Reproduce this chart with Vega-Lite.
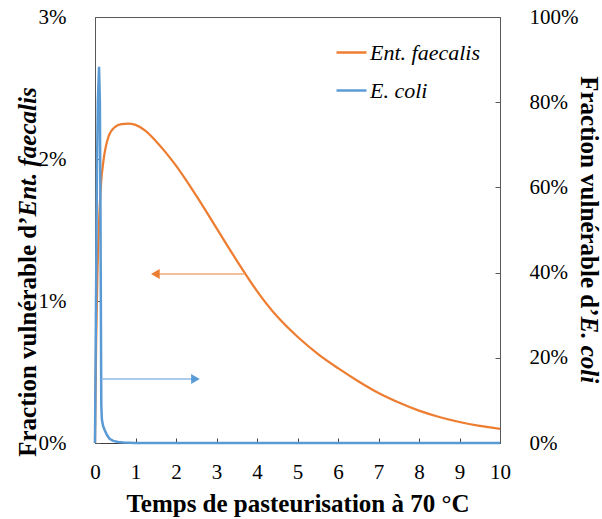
{
  "$schema": "https://vega.github.io/schema/vega-lite/v6.json",
  "autosize": {"type": "none"},
  "width": 405,
  "height": 426,
  "padding": {"left": 95, "top": 17, "right": 102, "bottom": 76},
  "background": "white",
  "config": {
    "view": {"stroke": "#595959", "strokeWidth": 1},
    "axis": {"grid": false, "labelFont": "Liberation Serif", "titleFont": "Liberation Serif", "labelColor": "#000000", "titleColor": "#000000", "labelFlush": false}
  },
  "datasets": {
    "faecalis": [
      {"series": "Ent. faecalis", "t": 0, "v": 0},
      {"series": "Ent. faecalis", "t": 0.03, "v": 0.0075},
      {"series": "Ent. faecalis", "t": 0.06, "v": 0.012},
      {"series": "Ent. faecalis", "t": 0.1, "v": 0.0155},
      {"series": "Ent. faecalis", "t": 0.15, "v": 0.0183},
      {"series": "Ent. faecalis", "t": 0.21, "v": 0.0199},
      {"series": "Ent. faecalis", "t": 0.33, "v": 0.02155},
      {"series": "Ent. faecalis", "t": 0.49, "v": 0.02225},
      {"series": "Ent. faecalis", "t": 0.65, "v": 0.02245},
      {"series": "Ent. faecalis", "t": 0.82, "v": 0.0225},
      {"series": "Ent. faecalis", "t": 1.0, "v": 0.0224},
      {"series": "Ent. faecalis", "t": 1.25, "v": 0.02198},
      {"series": "Ent. faecalis", "t": 1.5, "v": 0.02127},
      {"series": "Ent. faecalis", "t": 1.75, "v": 0.02045},
      {"series": "Ent. faecalis", "t": 2.0, "v": 0.01953},
      {"series": "Ent. faecalis", "t": 2.5, "v": 0.01742},
      {"series": "Ent. faecalis", "t": 3.0, "v": 0.01513},
      {"series": "Ent. faecalis", "t": 3.5, "v": 0.01285},
      {"series": "Ent. faecalis", "t": 4.0, "v": 0.0107},
      {"series": "Ent. faecalis", "t": 4.5, "v": 0.0089},
      {"series": "Ent. faecalis", "t": 5.0, "v": 0.00748},
      {"series": "Ent. faecalis", "t": 5.5, "v": 0.00628},
      {"series": "Ent. faecalis", "t": 6.0, "v": 0.00527},
      {"series": "Ent. faecalis", "t": 6.5, "v": 0.00435},
      {"series": "Ent. faecalis", "t": 7.0, "v": 0.00352},
      {"series": "Ent. faecalis", "t": 7.5, "v": 0.00285},
      {"series": "Ent. faecalis", "t": 8.0, "v": 0.00228},
      {"series": "Ent. faecalis", "t": 8.5, "v": 0.00183},
      {"series": "Ent. faecalis", "t": 9.0, "v": 0.00148},
      {"series": "Ent. faecalis", "t": 9.5, "v": 0.00121},
      {"series": "Ent. faecalis", "t": 10.0, "v": 0.001}
    ],
    "coli": [
      {"series": "E. coli", "t": 0, "v": 0},
      {"series": "E. coli", "t": 0.03, "v": 0.4},
      {"series": "E. coli", "t": 0.05, "v": 0.65},
      {"series": "E. coli", "t": 0.07, "v": 0.8},
      {"series": "E. coli", "t": 0.1, "v": 0.883},
      {"series": "E. coli", "t": 0.12, "v": 0.8},
      {"series": "E. coli", "t": 0.135, "v": 0.55},
      {"series": "E. coli", "t": 0.15, "v": 0.2},
      {"series": "E. coli", "t": 0.155, "v": 0.09},
      {"series": "E. coli", "t": 0.17, "v": 0.055},
      {"series": "E. coli", "t": 0.2, "v": 0.04},
      {"series": "E. coli", "t": 0.24, "v": 0.03},
      {"series": "E. coli", "t": 0.3, "v": 0.018},
      {"series": "E. coli", "t": 0.36, "v": 0.01},
      {"series": "E. coli", "t": 0.45, "v": 0.005},
      {"series": "E. coli", "t": 0.57, "v": 0.0025},
      {"series": "E. coli", "t": 0.7, "v": 0.001},
      {"series": "E. coli", "t": 0.85, "v": 0.0004},
      {"series": "E. coli", "t": 1.0, "v": 0.0001},
      {"series": "E. coli", "t": 1.5, "v": 0},
      {"series": "E. coli", "t": 10.0, "v": 0}
    ],
    "arrows": [
      {"series": "Ent. faecalis", "y": 0.0119, "from": 3.7, "to": 1.49},
      {"series": "E. coli", "y": 0.15, "from": 0.165, "to": 2.48}
    ]
  },
  "layer": [
    {
      "data": {"name": "faecalis"},
      "mark": {"type": "line", "strokeWidth": 2.25, "interpolate": "monotone"},
      "encoding": {
        "x": {
          "field": "t", "type": "quantitative",
          "scale": {"domain": [0, 10], "nice": false},
          "axis": {
            "title": "Temps de pasteurisation à 70 °C",
            "values": [0, 1, 2, 3, 4, 5, 6, 7, 8, 9, 10],
            "format": "d",
            "tickSize": -5, "tickColor": "#404040", "domainColor": "#404040",
            "labelFontSize": 21, "labelPadding": 23,
            "titleFontSize": 25, "titleFontWeight": "bold", "titlePadding": 9
          }
        },
        "y": {
          "field": "v", "type": "quantitative",
          "scale": {"domain": [0, 0.03], "nice": false},
          "axis": {
            "orient": "left",
            "values": [0, 0.01, 0.02, 0.03],
            "format": ".0%",
            "tickSize": -5, "tickColor": "#595959", "domainColor": "#595959",
            "labelFontSize": 21, "labelPadding": 34,
            "title": "Fraction vulnérable d’",
            "titleFontSize": 25, "titleFontWeight": "bold",
            "titleAngle": -90, "titleAlign": "right", "titleBaseline": "middle",
            "titleX": -68, "titleY": 199
          }
        },
        "color": {
          "field": "series", "type": "nominal",
          "scale": {"domain": ["Ent. faecalis", "E. coli"], "range": ["#ED7D31", "#5B9BD5"]},
          "legend": {
            "title": null, "orient": "none", "legendX": 240, "legendY": 19,
            "symbolType": "stroke", "symbolSize": 900, "symbolStrokeWidth": 2.5,
            "labelFont": "Liberation Serif", "labelFontStyle": "italic", "labelFontSize": 22,
            "labelColor": "#000000", "labelOffset": 2, "rowPadding": 10, "padding": 0
          }
        }
      }
    },
    {
      "data": {"name": "coli"},
      "mark": {"type": "line", "strokeWidth": 2.5},
      "encoding": {
        "x": {
          "field": "t", "type": "quantitative",
          "scale": {"domain": [0, 10], "nice": false},
          "axis": {
            "title": "Temps de pasteurisation à 70 °C",
            "values": [0, 1, 2, 3, 4, 5, 6, 7, 8, 9, 10],
            "format": "d",
            "tickSize": -5, "tickColor": "#404040", "domainColor": "#404040",
            "labelFontSize": 21, "labelPadding": 23,
            "titleFontSize": 25, "titleFontWeight": "bold", "titlePadding": 9
          }
        },
        "y": {
          "field": "v", "type": "quantitative",
          "scale": {"domain": [0, 1], "nice": false},
          "axis": {
            "orient": "right",
            "values": [0, 0.2, 0.4, 0.6, 0.8, 1],
            "format": ".0%",
            "tickSize": -5, "tickColor": "#595959", "domainColor": "#595959",
            "labelFontSize": 21, "labelPadding": 34,
            "title": "Fraction vulnérable d’",
            "titleFontSize": 25, "titleFontWeight": "bold",
            "titleAngle": 90, "titleAlign": "right", "titleBaseline": "middle",
            "titleX": 88, "titleY": 299
          }
        },
        "color": {"field": "series", "type": "nominal"}
      }
    },
    {
      "data": {"name": "arrows"},
      "transform": [{"filter": "datum.series === 'Ent. faecalis'"}],
      "encoding": {
        "x": {
          "field": "to", "type": "quantitative",
          "scale": {"domain": [0, 10], "nice": false},
          "axis": {
            "title": "Temps de pasteurisation à 70 °C",
            "values": [0, 1, 2, 3, 4, 5, 6, 7, 8, 9, 10],
            "format": "d",
            "tickSize": -5, "tickColor": "#404040", "domainColor": "#404040",
            "labelFontSize": 21, "labelPadding": 23,
            "titleFontSize": 25, "titleFontWeight": "bold", "titlePadding": 9
          }
        },
        "y": {
          "field": "y", "type": "quantitative",
          "scale": {"domain": [0, 0.03], "nice": false},
          "axis": {
            "orient": "left", "labels": false, "ticks": false, "domain": false, "grid": false,
            "title": "Ent. faecalis",
            "titleFontSize": 25, "titleFontWeight": "bold", "titleFontStyle": "italic",
            "titleAngle": -90, "titleAlign": "left", "titleBaseline": "middle",
            "titleX": -68, "titleY": 199
          }
        }
      },
      "layer": [
        {
          "mark": {"type": "rule", "color": "#F0A878", "strokeWidth": 1.5},
          "encoding": {"x2": {"field": "from"}}
        },
        {
          "mark": {"type": "point", "shape": "triangle-left", "filled": true, "color": "#ED7D31", "opacity": 1, "size": 100}
        }
      ]
    },
    {
      "data": {"name": "arrows"},
      "transform": [{"filter": "datum.series === 'E. coli'"}],
      "encoding": {
        "x": {
          "field": "to", "type": "quantitative",
          "scale": {"domain": [0, 10], "nice": false},
          "axis": {
            "title": "Temps de pasteurisation à 70 °C",
            "values": [0, 1, 2, 3, 4, 5, 6, 7, 8, 9, 10],
            "format": "d",
            "tickSize": -5, "tickColor": "#404040", "domainColor": "#404040",
            "labelFontSize": 21, "labelPadding": 23,
            "titleFontSize": 25, "titleFontWeight": "bold", "titlePadding": 9
          }
        },
        "y": {
          "field": "y", "type": "quantitative",
          "scale": {"domain": [0, 1], "nice": false},
          "axis": {
            "orient": "right", "labels": false, "ticks": false, "domain": false, "grid": false,
            "title": "E. coli",
            "titleFontSize": 25, "titleFontWeight": "bold", "titleFontStyle": "italic",
            "titleAngle": 90, "titleAlign": "left", "titleBaseline": "middle",
            "titleX": 88, "titleY": 299
          }
        }
      },
      "layer": [
        {
          "mark": {"type": "rule", "color": "#8FBBE3", "strokeWidth": 1.5},
          "encoding": {"x2": {"field": "from"}}
        },
        {
          "mark": {"type": "point", "shape": "triangle-right", "filled": true, "color": "#5B9BD5", "opacity": 1, "size": 100}
        }
      ]
    }
  ],
  "resolve": {"scale": {"y": "independent"}, "axis": {"y": "independent"}}
}
